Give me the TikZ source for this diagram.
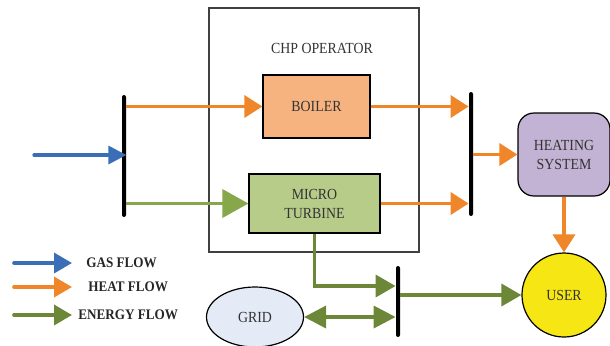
\documentclass[tikz,border=0pt]{standalone}
\usepackage{fontspec}
\setmainfont{Liberation Serif}[FakeStretch=0.9]
\usetikzlibrary{arrows.meta,positioning,shapes.geometric}
\definecolor{cgas}{HTML}{3A6FB8}
\definecolor{cheat}{HTML}{F0862A}
\definecolor{cpow}{HTML}{6B8737}
\definecolor{cpowl}{HTML}{86A84A}
\definecolor{fboil}{HTML}{F6B380}
\definecolor{fturb}{HTML}{B8CC8A}
\definecolor{fheat}{HTML}{C2B2D4}
\definecolor{fuser}{HTML}{F5E614}
\definecolor{fgrid}{HTML}{E4EBF6}
\definecolor{ctxt}{HTML}{333333}
\tikzset{
  unit/.style={draw=black,line width=0.6pt,align=center,font=\fontsize{7.7}{9.5}\selectfont,text=ctxt,inner sep=2pt},
  busbar/.style={fill=black,minimum width=2pt,inner sep=0pt,rounded corners=1pt},
  garr/.style={-{Triangle[length=9pt,width=9pt]},line width=1.6pt,draw=cgas,line cap=round},
  harr/.style={-{Triangle[length=9pt,width=11pt]},line width=1.8pt,draw=cheat},
  parr/.style={-{Triangle[length=10pt,width=11pt]},line width=1.8pt,draw=cpow},
  lbl/.style={font=\bfseries\fontsize{7.3}{9}\selectfont,text=black!85,anchor=west,inner sep=0pt},
}
\begin{document}
\begin{tikzpicture}[x=0.5pt,y=-0.5pt]
  \useasboundingbox (0,0) rectangle (610,345);
  % operator frame
  \node[draw=black!75,line width=0.6pt,minimum width=105pt,minimum height=122pt,inner sep=0pt] (chp) at (314,130) {};
  \node[font=\fontsize{7.7}{9.5}\selectfont,text=ctxt] (chplbl) at (322,48) {CHP OPERATOR};
  \node[unit,fill=fboil,minimum width=53.5pt,minimum height=31.5pt] (boiler) at (316.5,106.5) {BOILER};
  \node[unit,fill=fturb,minimum width=65.5pt,minimum height=29.5pt] (turbine) at (314.5,203.5) {MICRO\\TURBINE};
  \node[unit,fill=fheat,rounded corners=8pt,minimum width=46pt,minimum height=41.5pt] (heating) at (564,154.5) {HEATING\\SYSTEM};
  \node[unit,fill=fuser,circle,minimum size=42pt] (user) at (564,295) {USER};
  \node[unit,fill=fgrid,ellipse,minimum width=48.5pt,minimum height=30pt] (grid) at (255,317) {GRID};
  % bus bars
  \node[busbar,minimum height=61pt] (busin) at (124,156) {};
  \node[busbar,minimum height=62pt] (busheat) at (471,154) {};
  \node[busbar,minimum height=35.5pt] (buspow) at (398,301.5) {};
  \coordinate (gasin) at (34,155);
  \coordinate (tapy) at (0,286);
  % flows
  \draw[garr] (gasin) -- (busin.east |- gasin);
  \draw[harr] (busin.east |- boiler.west) -- (boiler.west);
  \draw[parr,draw=cpowl,-{Triangle[length=13pt,width=14pt]}] (busin.east |- turbine.west) -- (turbine.west);
  \draw[harr] (boiler.east) -- (busheat.west |- boiler.east);
  \draw[harr] (turbine.east) -- (busheat.west |- turbine.east);
  \draw[harr] (busheat.east |- heating.west) -- (heating.west);
  \draw[harr] (heating.south) -- (user.north);
  \draw[parr] (turbine.south) |- (buspow.west |- tapy);
  \draw[parr] (buspow.east |- user.west) -- (user.west);
  \draw[parr,{Triangle[length=11pt,width=11pt]}-{Triangle[length=11pt,width=11pt]}] (grid.east) -- (buspow.west |- grid.east);
  % legend
  \foreach \i/\y/\c/\t/\x in {1/263/cgas/GAS FLOW/86,
                              2/287/cheat/HEAT FLOW/88,
                              3/315/cpow/ENERGY FLOW/78} {
    \coordinate (lgs\i) at (14,\y);
    \coordinate (lge\i) at (72,\y);
    \draw[-{Triangle[length=9pt,width=10pt]},line width=1.8pt,draw=\c,line cap=round] (lgs\i) -- (lge\i);
    \node[lbl] (lgt\i) at (\x,\y) {\t};
  }
\end{tikzpicture}
\end{document}
